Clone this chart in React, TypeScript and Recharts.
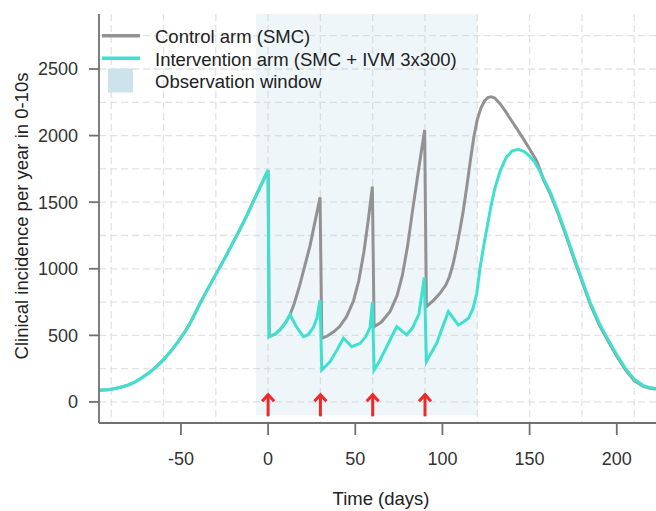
import React from 'react';
import {
  ComposedChart,
  Line,
  XAxis,
  YAxis,
  CartesianGrid,
  ReferenceArea,
  ReferenceDot,
  Label,
} from 'recharts';

// seasonal run-in before the first SMC round (both arms identical)
const RUN_IN_DAYS = [-97, -92, -88, -84, -80, -76, -72, -68, -64, -60, -56, -52, -48, -44, -40, -36, -32, -28, -24, -20, -16, -12, -8, -4, 0];
const RUN_IN_INCIDENCE = [88, 92, 100, 112, 128, 152, 185, 222, 265, 318, 378, 445, 520, 610, 715, 815, 910, 1005, 1100, 1200, 1300, 1405, 1520, 1630, 1740];

// control arm (SMC only)
const CONTROL_DAYS = [
  0.6, 4, 7, 10, 12.6, 15, 18, 21, 24, 27, 29.8,
  30.8, 34, 38, 41, 45, 49, 52, 55, 57.5, 59.8,
  60.8, 65, 70, 74, 77, 80, 83, 86.5, 89.8,
  90.8, 95, 98.6, 102, 104, 106, 108, 110, 112, 114, 116, 118, 120, 122, 124, 126, 128, 130, 133, 136, 139, 142, 146, 150, 154,
  158, 162, 166, 170, 175, 180, 185, 190, 195, 200, 205, 210, 215, 219, 222.5,
];
const CONTROL_INCIDENCE = [
  490, 510, 545, 595, 655, 740, 870, 1020, 1170, 1360, 1537,
  478, 495, 530, 566, 640, 760, 910, 1130, 1370, 1617,
  565, 600, 680, 800, 950, 1170, 1450, 1760, 2042,
  716, 765, 816, 880, 940, 1030, 1150, 1290, 1440, 1620, 1810, 1990, 2120, 2205, 2258, 2285, 2292, 2282, 2240, 2185, 2125, 2065, 1985, 1900, 1812,
  1668, 1556, 1426, 1282, 1092, 906, 726, 577, 457, 343, 240, 160, 118, 102, 97,
];

// intervention arm (SMC + IVM 3x300)
const IVM_DAYS = [
  0.6, 4, 7, 10, 12.6, 16, 20.2, 23, 26, 28, 29.8,
  30.8, 35.6, 39.5, 43.2, 48, 52.8, 56, 58.5, 59.8,
  60.8, 64, 67.1, 70.5, 73.8, 79.5, 83, 86.5, 89.6,
  90.8, 96.7, 100, 103.4, 109.1, 112, 114.9, 117.5, 119.7, 121.5, 123.5, 126, 128, 130, 133, 136.5, 140, 143.5,
  147, 150, 153, 156, 159, 162, 166, 170, 175, 180, 185, 190, 195, 200, 205, 210, 215, 219, 222.5,
];
const IVM_INCIDENCE = [
  490, 510, 545, 595, 655, 570, 490, 505, 560, 630, 766,
  240, 303, 390, 478, 415, 440, 490, 560, 750,
  240, 310, 390, 480, 566, 503, 560, 660, 935,
  303, 440, 560, 678, 578, 600, 628, 700, 816, 1000, 1160, 1340, 1480, 1600, 1730, 1835, 1885, 1897,
  1880, 1845, 1800, 1730, 1650, 1570, 1440, 1295, 1105, 920, 740, 590, 470, 355, 250, 170, 125, 108, 100,
];

const SMC_ROUNDS = [0, 30, 60, 90];
const OBSERVATION_WINDOW = [-7, 120];

const X_TICKS = [-50, 0, 50, 100, 150, 200];
const Y_TICKS = [0, 500, 1000, 1500, 2000, 2500];
const X_GRID = [-90, -60, -30, 0, 30, 60, 90, 120, 150, 180, 210];
const Y_GRID = [0, 250, 500, 750, 1000, 1250, 1500, 1750, 2000, 2250, 2500, 2750];

const X_DOMAIN = [-97, 222.5];
const Y_DOMAIN = [-158, 2913];

const FONT = '"Liberation Sans", Arial, Helvetica, sans-serif';
const AXIS_COLOR = '#707070';
const CONTROL_COLOR = '#929292';
const IVM_COLOR = '#40e0d0';
const ARROW_COLOR = '#f02828';

const toPoints = (days: number[], values: number[]) =>
  days.map((x, i) => ({ x, y: values[i] }));

const runIn = toPoints(RUN_IN_DAYS, RUN_IN_INCIDENCE);
const controlData = [...runIn, ...toPoints(CONTROL_DAYS, CONTROL_INCIDENCE)];
const ivmData = [...runIn, ...toPoints(IVM_DAYS, IVM_INCIDENCE)];

function Arrow(props: any) {
  const { cx, cy } = props;
  return (
    <g stroke={ARROW_COLOR} strokeWidth={3} fill="none">
      <line x1={cx} y1={cy + 1} x2={cx} y2={cy + 23} />
      <polyline points={`${cx - 6},${cy + 8} ${cx},${cy + 1.5} ${cx + 6},${cy + 8}`} />
    </g>
  );
}

function ChartLegend() {
  return (
    <svg
      width={480}
      height={100}
      style={{ position: 'absolute', left: 0, top: 0, pointerEvents: 'none' }}
    >
      <g fontFamily={FONT} fontSize={18.5} fill="#222">
        <line x1={102} x2={140} y1={35.7} y2={35.7} stroke={CONTROL_COLOR} strokeWidth={3.5} />
        <text x={155} y={36.5} dominantBaseline="central">Control arm (SMC)</text>
        <line x1={102} x2={140} y1={58.3} y2={58.3} stroke={IVM_COLOR} strokeWidth={3.5} />
        <text x={155} y={59} dominantBaseline="central">Intervention arm (SMC + IVM 3x300)</text>
        <rect x={108} y={68.5} width={25} height={24} fill="#cde3ec" />
        <text x={155} y={81.5} dominantBaseline="central">Observation window</text>
      </g>
    </svg>
  );
}

export default function App() {
  const tickStyle = { fill: '#333', fontSize: 18, fontFamily: FONT };
  return (
    <div style={{ position: 'absolute', left: 0, top: 0, width: 656, height: 511, background: '#fff' }}>
      <ComposedChart width={656} height={511} margin={{ top: 14, right: 0, bottom: 0, left: 0 }}>
        <CartesianGrid
          stroke="#e2e2e2"
          strokeWidth={1.3}
          strokeDasharray="7 4"
          verticalValues={X_GRID}
          horizontalValues={Y_GRID}
        />
        <XAxis
          dataKey="x"
          type="number"
          domain={X_DOMAIN}
          ticks={X_TICKS}
          interval={0}
          allowDataOverflow
          height={88}
          tickSize={12}
          tickMargin={17}
          tick={tickStyle}
          axisLine={{ stroke: AXIS_COLOR, strokeWidth: 1.8 }}
          tickLine={{ stroke: AXIS_COLOR, strokeWidth: 1.8 }}
        >
          <Label
            content={({ viewBox }: any) => (
              <text
                x={viewBox.x + viewBox.width / 2 + 3.5}
                y={viewBox.y + 82}
                textAnchor="middle"
                fontFamily={FONT}
                fontSize={18.5}
                fill="#222"
              >
                Time (days)
              </text>
            )}
          />
        </XAxis>
        <XAxis
          xAxisId="top"
          orientation="top"
          type="number"
          domain={X_DOMAIN}
          height={0}
          tick={false}
          tickLine={false}
          axisLine={{ stroke: AXIS_COLOR, strokeWidth: 1.8 }}
        />
        <YAxis
          type="number"
          domain={Y_DOMAIN}
          ticks={Y_TICKS}
          interval={0}
          allowDataOverflow
          width={99}
          tickSize={10}
          tickMargin={11}
          tick={tickStyle}
          axisLine={{ stroke: AXIS_COLOR, strokeWidth: 1.8 }}
          tickLine={{ stroke: AXIS_COLOR, strokeWidth: 1.8 }}
        >
          <Label
            content={() => (
              <text
                x={21.5}
                y={216}
                transform="rotate(-90 21.5 216)"
                textAnchor="middle"
                dominantBaseline="central"
                fontFamily={FONT}
                fontSize={18.5}
                fill="#222"
              >
                Clinical incidence per year in 0-10s
              </text>
            )}
          />
        </YAxis>
        <ReferenceArea
          x1={OBSERVATION_WINDOW[0]}
          x2={OBSERVATION_WINDOW[1]}
          y1={-100}
          y2={Y_DOMAIN[1]}
          fill="#b3d7e6"
          fillOpacity={0.22}
          stroke="none"
        />
        <Line
          data={controlData}
          dataKey="y"
          type="linear"
          stroke={CONTROL_COLOR}
          strokeWidth={3}
          dot={false}
          activeDot={false}
          isAnimationActive={false}
        />
        <Line
          data={ivmData}
          dataKey="y"
          type="linear"
          stroke={IVM_COLOR}
          strokeWidth={3}
          dot={false}
          activeDot={false}
          isAnimationActive={false}
        />
        {SMC_ROUNDS.map((d) => (
          <ReferenceDot key={d} x={d} y={65} shape={Arrow} />
        ))}
      </ComposedChart>
      <ChartLegend />
    </div>
  );
}
